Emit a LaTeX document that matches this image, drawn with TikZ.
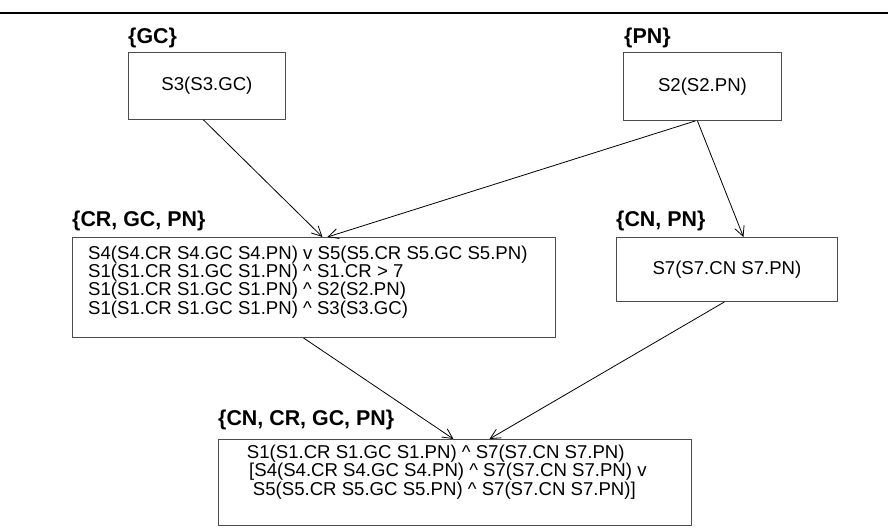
\documentclass[tikz,border=0pt]{standalone}
\usepackage{fontspec}
\setmainfont{Liberation Sans}
\usetikzlibrary{arrows.meta}
\begin{document}
\begin{tikzpicture}[x=1pt,y=-1pt,
  box/.style={draw=black!70, line width=0.9pt, inner sep=0pt, anchor=north west},
  txt/.style={inner sep=0pt, font=\fontsize{18.6}{15.8}\selectfont},
  lbl/.style={inner sep=0pt, anchor=west, font=\fontsize{21.4}{24}\selectfont\bfseries},
  conn/.style={draw=black, line width=0.8pt, -{Straight Barb[length=10pt,width=10pt]}}]
\useasboundingbox (0,0) rectangle (888,527);
\draw[line width=2pt] (0,13) -- (888,13);
% boxes
\node[box, minimum width=157pt, minimum height=67pt] (gc) at (128,52) {};
\node[box, minimum width=158pt, minimum height=68pt] (pn) at (623,52) {};
\node[box, minimum width=221pt, minimum height=64pt] (cnpn) at (616,237) {};
\node[box, minimum width=483pt, minimum height=100pt] (cr) at (72,237) {};
\node[box, minimum width=473pt, minimum height=86pt] (all) at (218,439) {};
% labels
\node[lbl] (gcl) at (128,38) {\{GC\}};
\node[lbl] (pnl) at (624,38) {\{PN\}};
\node[lbl] (cnpnl) at (616,221) {\{CN, PN\}};
\node[lbl] (crl) at (72,221) {\{CR, GC, PN\}};
\node[lbl] (alll) at (218,420) {\{CN, CR, GC, PN\}};
% texts
\node[txt] (gct) at (gc.center) {S3(S3.GC)};
\node[txt] (pnt) at (pn.center) {S2(S2.PN)};
\node[txt] (cnpnt) at (cnpn.center) {S7(S7.CN S7.PN)};
\node[txt, anchor=west, align=left] (crt) at (88,282) {S4(S4.CR S4.GC S4.PN) v S5(S5.CR S5.GC S5.PN)\\
S1(S1.CR S1.GC S1.PN) \^{} S1.CR > 7\\
S1(S1.CR S1.GC S1.PN) \^{} S2(S2.PN)\\
S1(S1.CR S1.GC S1.PN) \^{} S3(S3.GC)};
\node[txt, anchor=west, align=left] (allt) at (246.7,472) {S1(S1.CR S1.GC S1.PN) \^{} S7(S7.CN S7.PN)\\
\hspace*{2.3pt}[S4(S4.CR S4.GC S4.PN) \^{} S7(S7.CN S7.PN) v\\
\hspace*{6pt}S5(S5.CR S5.GC S5.PN) \^{} S7(S7.CN S7.PN)]};
% connectors
\draw[conn] ([xshift=-3.5pt]gc.south) -- ([xshift=8.5pt]cr.north);
\draw[conn] ([xshift=-7pt]pn.south) -- ([xshift=13.5pt]cr.north);
\draw[conn] ([xshift=-5pt]pn.south) -- ([xshift=16.5pt]cnpn.north);
\draw[conn] ([xshift=-10.5pt]cr.south) -- ([xshift=-1.5pt]all.north);
\draw[conn] ([xshift=-2.5pt]cnpn.south) -- ([xshift=34.5pt]all.north);
\end{tikzpicture}
\end{document}
